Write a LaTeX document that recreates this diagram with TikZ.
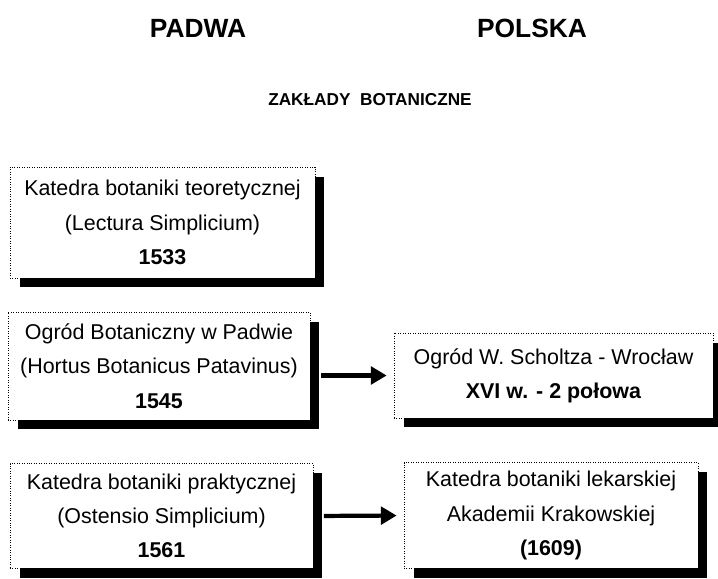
\documentclass[tikz,border=0pt]{standalone}
\usepackage{fontspec}
\setmainfont{Liberation Sans}
\usetikzlibrary{arrows.meta,shadows}

\begin{document}
\begin{tikzpicture}[x=0.02cm,y=-0.02cm,>=Triangle,
  box/.style={draw,densely dotted,fill=white,align=center,inner sep=0pt,
    font=\fontsize{12.2}{19.5}\selectfont,
    drop shadow={shadow xshift=0.19cm,shadow yshift=-0.19cm,fill=black,opacity=1}},
  arr/.style={line width=2.4pt,shorten <=6pt,shorten >=4pt,
    -{Triangle[length=9pt,width=10pt]}},
  head/.style={font=\fontsize{15}{17}\selectfont\bfseries}]
  \useasboundingbox (0,0) rectangle (718,579);
  % naglowki
  \node[head] (padwa) at (198,28) {PADWA};
  \node[head] (polska) at (532,28) {POLSKA};
  \node[font=\fontsize{9.8}{12}\selectfont\bfseries] (zaklady) at (370,100) {ZAKŁADY\ \ BOTANICZNE};
  % Padwa
  \node[box,minimum width=6.1cm,minimum height=2.22cm] (A) at (162.5,222.5)
    {Katedra botaniki teoretycznej\\(Lectura Simplicium)\\\textbf{1533}};
  \node[box,minimum width=6.04cm,minimum height=2.16cm] (B) at (159,366)
    {Ogród Botaniczny w Padwie\\(Hortus Botanicus Patavinus)\\\textbf{1545}};
  \node[box,minimum width=6.06cm,minimum height=2.1cm] (C) at (161.5,516)
    {Katedra botaniki praktycznej\\(Ostensio Simplicium)\\\textbf{1561}};
  % Polska
  \node[box,minimum width=6.38cm,minimum height=1.7cm] (D) at (553.5,375.5)
    {Ogród W. Scholtza - Wrocław\\\textbf{XVI w. - 2 połowa}};
  \node[box,minimum width=5.88cm,minimum height=2.12cm] (E) at (551,515.5)
    {Katedra botaniki lekarskiej\\Akademii Krakowskiej\\\textbf{(1609)}};
  % strzalki
  \draw[arr] (B.east |- D.west) -- (D.west);
  \draw[arr] (C.east) -- (E.west);
\end{tikzpicture}
\end{document}
